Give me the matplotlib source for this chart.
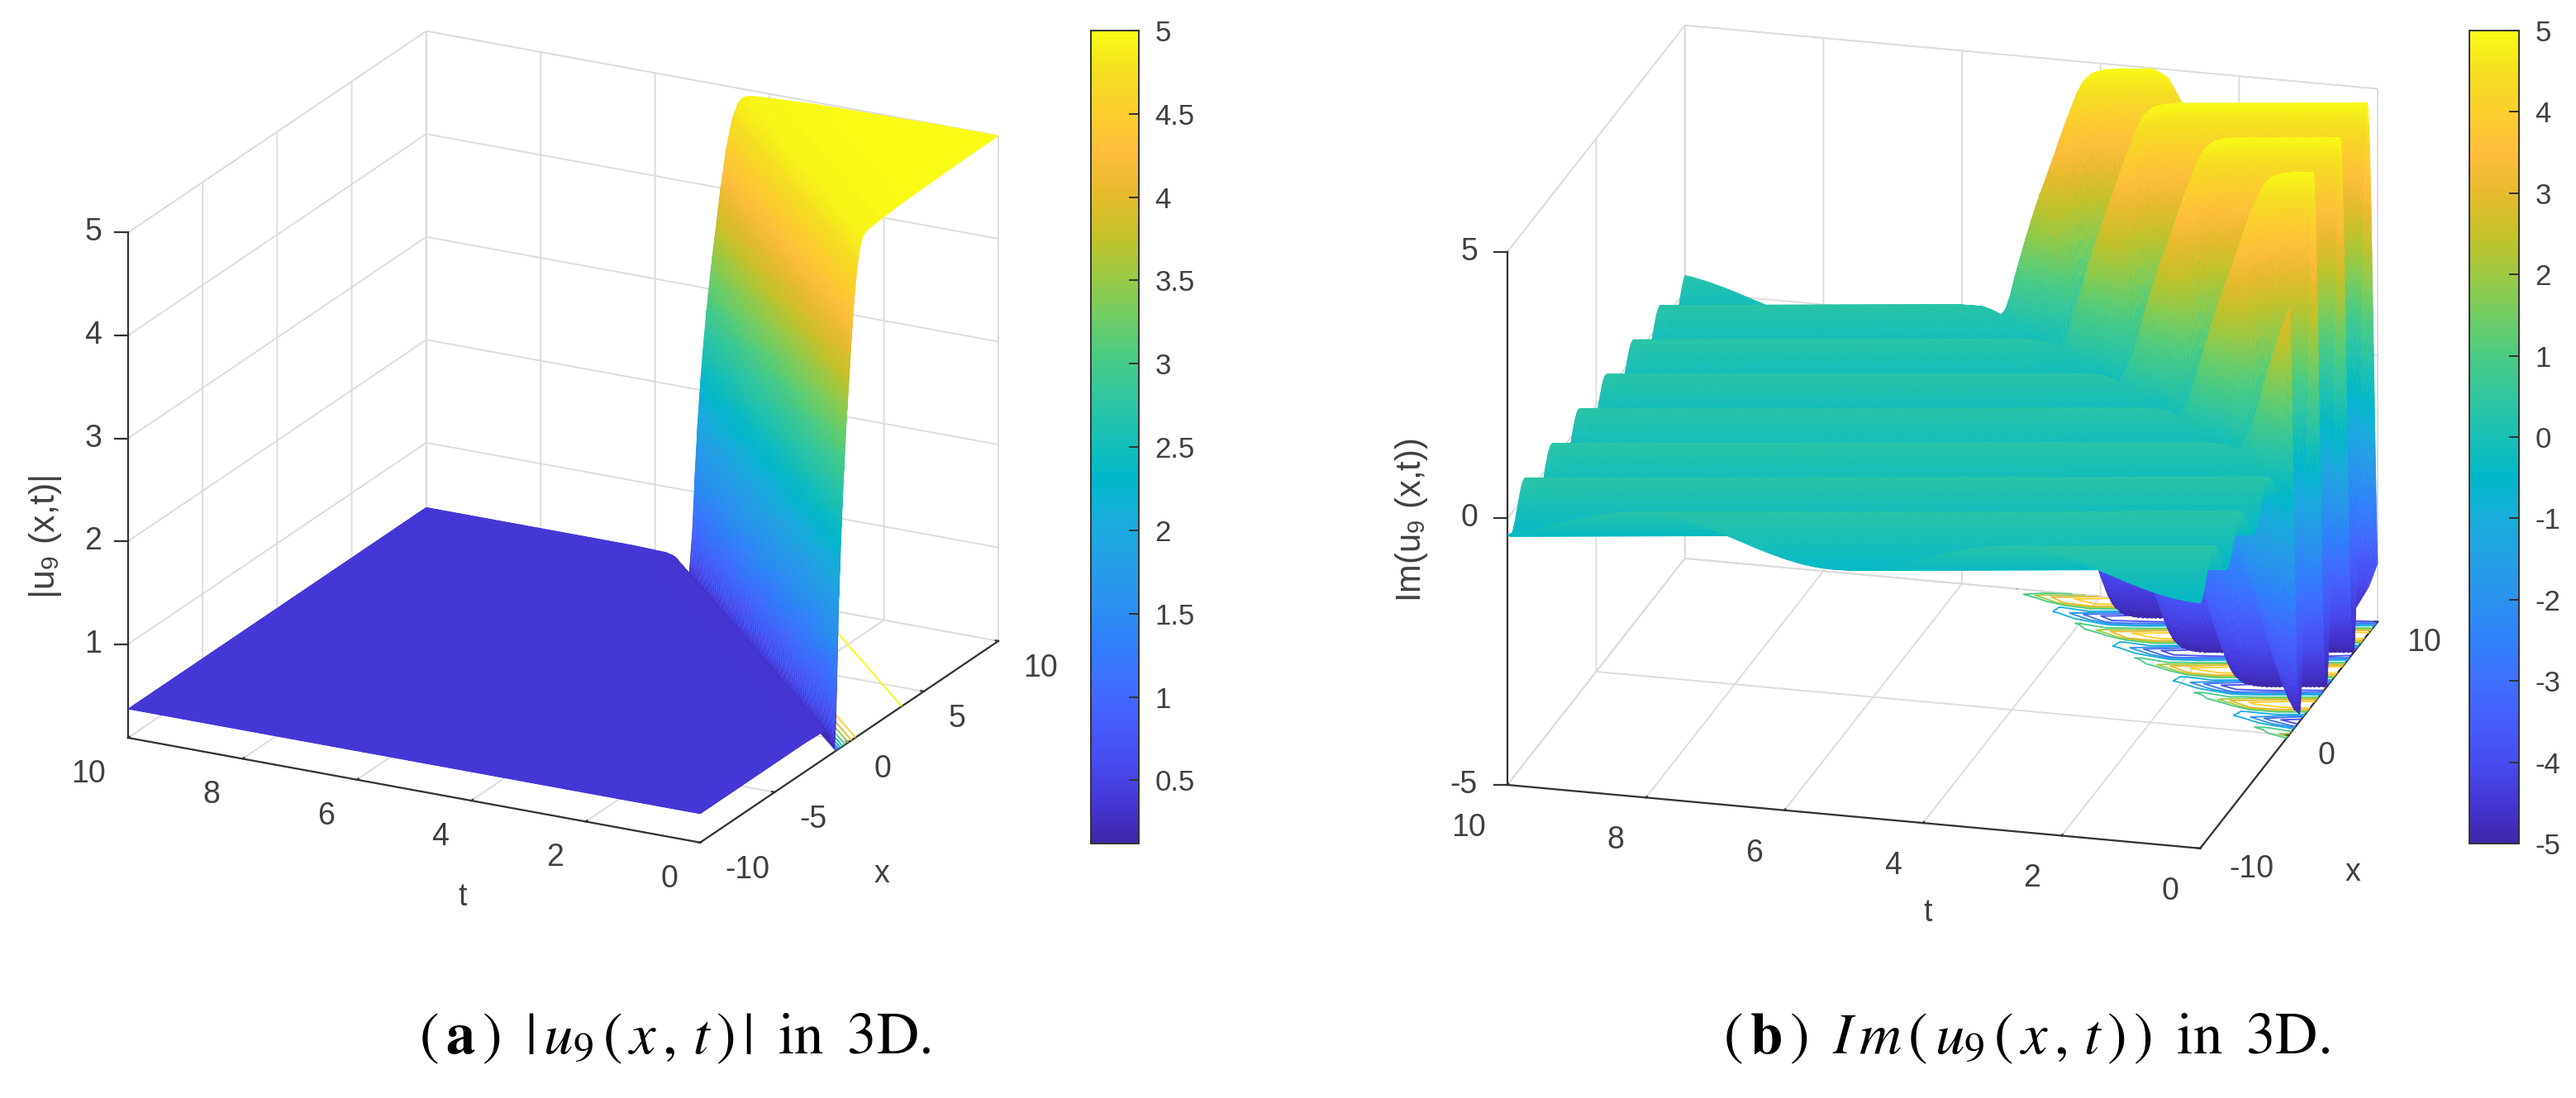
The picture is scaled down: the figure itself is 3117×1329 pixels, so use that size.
import numpy as np
import matplotlib
matplotlib.use('Agg')
import matplotlib.pyplot as plt
from matplotlib.cm import ScalarMappable
from matplotlib.colors import LinearSegmentedColormap, Normalize
from matplotlib.lines import Line2D
from mpl_toolkits.mplot3d import proj3d

plt.rcParams['font.family'] = ['Liberation Sans', 'DejaVu Sans']
plt.rcParams['axes.unicode_minus'] = False
plt.rcParams['mathtext.fontset'] = 'stix'

# ticks
x_ticks_a = [-10, -5, 0, 5, 10]
x_ticks_b = [-10, 0, 10]
t_ticks = [0, 2, 4, 6, 8, 10]
z_ticks_a = [1, 2, 3, 4, 5]
z_ticks_b = [-5, 0, 5]
cbar_ticks_a = [0.5, 1, 1.5, 2, 2.5, 3, 3.5, 4, 4.5, 5]
cbar_ticks_b = [-5, -4, -3, -2, -1, 0, 1, 2, 3, 4, 5]

# front of the wave: it moves about 2.03 in x per unit of t
front_speed = 2.03
# crests of panel b stay on lines of constant x + 0.57 t, 3.05 apart
crest_slope = 0.57
crest_period = 3.05

# panel a: height read across the front (distance behind/ahead of the front)
a_xi = [-40, -3, -1.8, -1.5, -1.3, -1.15, -1.0, -0.9, -0.8, -0.7, -0.55, -0.4, -0.2, 0, 0.1, 0.35,
        0.55, 0.75, 0.9, 1.1, 1.4, 2, 3.5, 8, 40]
a_height = [0.37, 0.37, 0.36, 0.34, 0.28, 0.18, 0.13, 0.35, 0.95, 1.55, 2.15, 2.65, 3.2, 3.65, 3.9, 4.4,
            4.68, 4.85, 4.91, 4.94, 4.95, 4.96, 4.98, 5, 5]

# panel b: size of the ripple across the front, its centre and where its crest sits
b_xi = [-40, -2.5, -1.8, -1.5, -1.25, -1.05, -0.9, -0.75, -0.6, -0.4, -0.2, 0, 0.2, 0.4, 0.6, 0.8,
        1.0, 1.3, 1.7, 2.2, 40]
b_size = [0.37, 0.37, 0.34, 0.28, 0.18, 0.12, 0.25, 0.6, 1.1, 1.8, 2.45, 3.0, 3.5, 3.95, 4.3, 4.58,
          4.78, 4.92, 4.98, 5, 5]
b_centre = [-0.03, -0.03, -0.03, -0.03, 0, 0, 0, 0, 0, 0, 0, 0, 0, 0, 0, 0,
            0, 0, 0, 0, 0]
b_crest = [3.7, 3.7, 3.7, 3.7, 3.7, 3.7, 3.7, 3.65, 3.55, 3.4, 3.2, 3.0, 2.85, 2.75, 2.7, 2.7,
           2.7, 2.7, 2.7, 2.7, 2.7]
# one ripple, crest to crest
ripple_step = [i / 24 for i in range(25)]
ripple_value = [1, 0.97, 0.87, 0.71, 0.5, 0.26, 0, -0.26, -0.5, -0.71, -0.87, -0.97, -1,
                -0.97, -0.87, -0.71, -0.5, -0.26, 0, 0.26, 0.5, 0.71, 0.87, 0.97, 1]

parula = LinearSegmentedColormap.from_list('parula', [
    (0.2422, 0.1504, 0.6603), (0.2706, 0.2147, 0.8364), (0.2813, 0.3006, 0.9414),
    (0.2760, 0.3667, 0.9829), (0.2440, 0.4358, 0.9988), (0.1834, 0.5074, 0.9798),
    (0.1687, 0.5703, 0.9359), (0.1380, 0.6276, 0.8973), (0.0952, 0.6798, 0.8598),
    (0.0036, 0.7203, 0.7917), (0.0964, 0.7500, 0.7120), (0.1938, 0.7758, 0.6251),
    (0.2906, 0.7973, 0.5188), (0.4456, 0.8024, 0.3909), (0.6174, 0.7876, 0.2612),
    (0.7738, 0.7598, 0.1646), (0.9035, 0.7330, 0.1774), (0.9956, 0.7434, 0.2371),
    (0.9892, 0.8066, 0.1811), (0.9610, 0.8705, 0.1313), (0.9769, 0.9839, 0.0805)])

W, H = 3117, 1329
fig = plt.figure(figsize=(W / 100, H / 100), dpi=100, facecolor='white')
tick_color = '#404040'


def setup_axes(elev, azim, aspect, xlim, zlim, x_ticks, z_ticks):
    ax = fig.add_axes([0.1, 0.1, 0.4, 0.4], projection='3d', computed_zorder=False)
    ax.set_proj_type('ortho')
    ax.view_init(elev=elev, azim=azim)
    ax.set_box_aspect(aspect)
    ax.set_xlim(*xlim)
    ax.set_ylim(0, 10)
    ax.set_zlim(*zlim)
    ax.set_xticks(x_ticks)
    ax.set_yticks(t_ticks)
    ax.set_zticks(z_ticks)
    ax.set_xticklabels([])
    ax.set_yticklabels([])
    ax.set_zticklabels([])
    for axis in (ax.xaxis, ax.yaxis, ax.zaxis):
        axis.set_pane_color((1, 1, 1, 1))
        axis.pane.set_edgecolor('#dcdcdc')
        axis.line.set_color('#333333')
        axis.line.set_linewidth(1.6)
        axis._axinfo['grid'].update(color='#dcdcdc', linewidth=1.4)
        axis._axinfo['tick'].update(inward_factor=0, outward_factor=0.06, linewidth={True: 1.6, False: 1})
        axis._axinfo['tick']['color'] = '#333333'
    ax.zaxis._axinfo['tick'].update(outward_factor=0)
    ax.tick_params(color='#333333')
    ax.patch.set_alpha(0)
    return ax


def px(ax, x, y, z):
    xs, ys, _ = proj3d.proj_transform(x, y, z, ax.get_proj())
    return ax.transData.transform((xs, ys))


def fit_axes(ax, corner_l, corner_r, left_px, right_px, left_py):
    # scale and shift the square axes until the box corners land where they should
    for _ in range(3):
        ax.apply_aspect()
        l = px(ax, *corner_l)
        r = px(ax, *corner_r)
        pos = ax.get_position()
        s = (right_px - left_px) / (r[0] - l[0])
        side = pos.width * W * s
        cx = (pos.x0 + pos.width / 2) * W
        cy = (pos.y0 + pos.height / 2) * H
        cx2 = left_px + (cx - l[0]) * s
        cy2 = (H - left_py) + (cy - l[1]) * s
        ax.set_position([(cx2 - side / 2) / W, (cy2 - side / 2) / H, side / W, side / H])
    ax.apply_aspect()


def tick_labels(ax, points, values, dx, dy, ha):
    # mplot3d pushes labels along the tick, MATLAB does not, so they go at the projected ticks
    for pt, v in zip(points, values):
        p = px(ax, *pt)
        fig.text((p[0] + dx) / W, (p[1] - dy) / H, f'{v:g}', ha=ha, va='center', color=tick_color, fontsize=27)


def z_axis_ticks(ax, x, y, ticks, gap):
    # MATLAB's z ticks are level
    for v in ticks:
        p = px(ax, x, y, v)
        fig.add_artist(Line2D([(p[0] - 16) / W, p[0] / W], [p[1] / H, p[1] / H], color='#333333', lw=1.6))
    tick_labels(ax, [(x, y, v) for v in ticks], ticks, -gap, 0, 'right')


def colorbar(x0, x1, y0, y1, vmin, vmax, ticks):
    cax = fig.add_axes([x0 / W, 1 - y1 / H, (x1 - x0) / W, (y1 - y0) / H])
    sm = ScalarMappable(norm=Normalize(vmin, vmax), cmap=parula)
    cb = fig.colorbar(sm, cax=cax)
    cb.set_ticks(ticks)
    cb.set_ticklabels([f'{v:g}' for v in ticks])
    cb.ax.tick_params(direction='in', length=9, width=1.4, labelsize=25, labelcolor=tick_color, color='#333333', pad=14)
    cb.outline.set_edgecolor('#333333')
    cb.outline.set_linewidth(1.4)


# panel a
x_a = np.linspace(-10, 10, 481)
t_a = np.linspace(0, 10, 201)
X_a, T_a = np.meshgrid(x_a, t_a)
Z_a = np.interp(X_a - front_speed * T_a, a_xi, a_height)
norm_a = Normalize(0.12, 5)

ax1 = setup_axes(20.6, -152.5, (781, 780, 653), (-10, 10), (0.09, 5), x_ticks_a, z_ticks_a)
ax1.contour(X_a, T_a, Z_a, levels=[0.5, 1, 1.5, 2, 2.5, 3, 3.5, 4, 4.5, 4.98], zdir='z', offset=0.09,
            cmap=parula, vmin=0.12, vmax=5, linewidths=1.3, zorder=1)
ax1.plot_surface(X_a, T_a, Z_a, facecolors=parula(norm_a(Z_a)), rstride=1, cstride=1,
                 linewidth=0.5, antialiased=True, shade=False, zorder=2)
fit_axes(ax1, (-10, 10, 0.09), (10, 0, 0.09), 155, 1208, 893)
z_axis_ticks(ax1, -10, 10, z_ticks_a, 32)
tick_labels(ax1, [(-10, v, 0.09) for v in t_ticks], t_ticks, -27, 44, 'right')
tick_labels(ax1, [(v, 0, 0.09) for v in x_ticks_a], x_ticks_a, 30, 33, 'left')

# panel b
x_b = np.linspace(-10, 10, 601)
t_b = np.linspace(0, 10, 301)
X_b, T_b = np.meshgrid(x_b, t_b)
xi_b = X_b - front_speed * T_b
phase_b = np.mod(X_b + crest_slope * T_b - np.interp(xi_b, b_xi, b_crest), crest_period) / crest_period
Z_b = np.interp(xi_b, b_xi, b_centre) + np.interp(xi_b, b_xi, b_size) * np.interp(phase_b, ripple_step, ripple_value)
norm_b = Normalize(-5, 5)

ax2 = setup_axes(20, -165, (829, 867, 686), (-10, 10), (-5, 5), x_ticks_b, z_ticks_b)
# the floor contours of the reference come from a coarse grid
ax2.contour(X_b[::12, ::12], T_b[::12, ::12], Z_b[::12, ::12], levels=[-4, -3, -2, -1, 1, 2, 3, 4], zdir='z', offset=-5,
            cmap=parula, vmin=-5, vmax=5, linewidths=1.3, zorder=1)
ax2.plot_surface(X_b, T_b, Z_b, facecolors=parula(norm_b(Z_b)), rstride=1, cstride=1,
                 linewidth=0.5, antialiased=True, shade=False, zorder=2)
fit_axes(ax2, (-10, 10, -5), (10, 0, -5), 1824, 2877, 950)
z_axis_ticks(ax2, -10, 10, z_ticks_b, 36)
tick_labels(ax2, [(-10, v, -5) for v in t_ticks], t_ticks, -26, 52, 'right')
tick_labels(ax2, [(v, 0, -5) for v in x_ticks_b], x_ticks_b, 35, 25, 'left')

colorbar(1320, 1378, 37, 1021, 0.12, 5, cbar_ticks_a)
colorbar(2988, 3048, 37, 1021, -5, 5, cbar_ticks_b)


def label(x, y, s, **kw):
    fig.text(x / W, 1 - y / H, s, ha='center', va='center', color=tick_color, **kw)


label(55, 650, r'|u$_{\mathregular{9}}$ (x,t)|', rotation=90, fontsize=31)
label(560, 1086, 't', fontsize=27)
label(1067, 1058, 'x', fontsize=27)
label(1708, 630, r'Im(u$_{\mathregular{9}}$ (x,t))', rotation=90, fontsize=30)
label(2333, 1105, 't', fontsize=27)
label(2847, 1056, 'x', fontsize=27)

caption = dict(ha='center', va='center', color='black', fontsize=51, family='Liberation Serif')
fig.text(817 / W, 1 - 1258 / H, r'$(\,\mathbf{a}\,)\;\;|\,u_9\,(\,x\,,\,t\,)\,|\;\;\mathrm{in}\;\;3\mathrm{D}.$', **caption)
fig.text(2452 / W, 1 - 1258 / H, r'$(\,\mathbf{b}\,)\;\;I\,m\,(\,u_9\,(\,x\,,\,t\,)\,)\;\;\mathrm{in}\;\;3\mathrm{D}.$', **caption)

fig.savefig('out.png', dpi=100, facecolor='white')
